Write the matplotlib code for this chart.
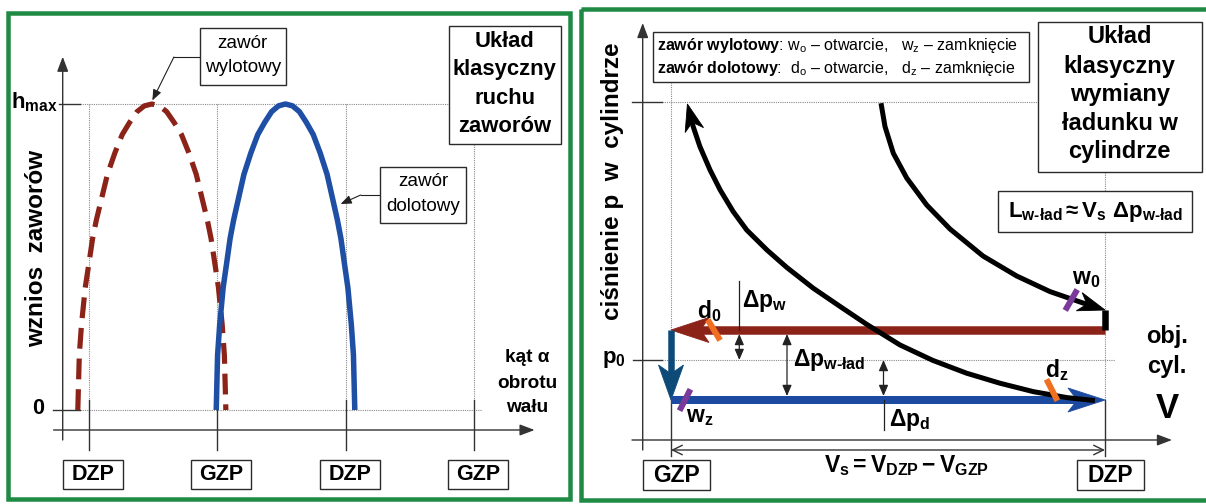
import numpy as np
import matplotlib
matplotlib.use('Agg')
import matplotlib.pyplot as plt
import matplotlib.transforms as mtransforms
from matplotlib.patches import Rectangle, FancyArrowPatch, Polygon
from matplotlib.lines import Line2D

plt.rcParams['font.family'] = ['Liberation Sans', 'DejaVu Sans']
plt.rcParams['mathtext.fontset'] = 'custom'
plt.rcParams['mathtext.rm'] = 'Liberation Sans'
plt.rcParams['mathtext.it'] = 'Liberation Sans'
plt.rcParams['mathtext.bf'] = 'Liberation Sans:bold'

# ---------------- DATA: left panel (valve lift vs crank angle) ----------------
cycle_angles = [180, 360, 540, 720]
cycle_labels = ['DZP', 'GZP', 'DZP', 'GZP']
lift_levels = [0.0, 1.0]
lift_labels = ['0', r'$\mathbf{h}_\mathbf{max}$']
exh_angle = [164.6, 166.7, 169.8, 175.0, 180.2, 185.3, 190.5, 195.7, 206.1, 216.5,
             226.8, 237.2, 247.6, 257.9, 268.3, 278.7, 289.0, 299.4, 309.8, 320.2,
             330.5, 340.9, 346.1, 351.3, 356.5, 361.6, 366.8, 369.9, 372.0]
exh_lift = [0.0, 0.18, 0.28, 0.40, 0.48, 0.56, 0.62, 0.67, 0.77, 0.84,
            0.90, 0.94, 0.975, 0.994, 1.0, 0.994, 0.975, 0.94, 0.90, 0.84,
            0.77, 0.67, 0.62, 0.56, 0.48, 0.40, 0.28, 0.18, 0.0]
int_angle = [358.5, 360.4, 363.4, 368.2, 373.1, 377.9, 382.8, 387.6, 397.3, 407.0,
             416.7, 426.4, 436.1, 445.8, 455.5, 465.3, 475.0, 484.7, 494.4, 504.1,
             513.8, 523.5, 528.3, 533.2, 538.0, 542.9, 547.7, 550.7, 552.6]
int_lift = [0.0, 0.18, 0.28, 0.40, 0.48, 0.56, 0.62, 0.67, 0.77, 0.84,
            0.90, 0.94, 0.975, 0.994, 1.0, 0.994, 0.975, 0.94, 0.90, 0.84,
            0.77, 0.67, 0.62, 0.56, 0.48, 0.40, 0.28, 0.18, 0.0]

# ---------------- DATA: right panel (p-V diagram) ----------------
stroke_V = [1.0, 10.0]
stroke_labels = ['GZP', 'DZP']
p0 = 1.0
p_exh = 1.15
p_int = 0.80
p_top = 2.29
p_blow = 1.25
comp_V = [9.79, 9.21, 8.51, 7.82, 7.13, 6.43, 5.75, 5.06, 4.51, 3.95, 3.40, 2.99, 2.57, 2.29, 2.02, 1.81, 1.60, 1.46, 1.34]
comp_p = [0.797, 0.812, 0.842, 0.884, 0.934, 0.998, 1.075, 1.178, 1.267, 1.359, 1.463, 1.550, 1.650, 1.742, 1.850, 1.950, 2.067, 2.167, 2.280]
exp_V = [5.355, 5.438, 5.61, 5.888, 6.303, 6.786, 7.47, 8.169, 8.86, 9.544, 10.0]
exp_p = [2.284, 2.167, 2.034, 1.91, 1.775, 1.655, 1.52, 1.42, 1.342, 1.285, 1.25]
valve_labels = [r'$\mathbf{w_0}$', r'$\mathbf{w_z}$', r'$\mathbf{d_0}$', r'$\mathbf{d_z}$']
valve_V = [9.30, 1.29, 1.89, 8.90]
valve_p = [1.30, 0.80, 1.15, 0.85]

# ---------------- styles / layout ----------------
GREEN = '#1f8a43'
RED = '#8c2319'
BLUE = '#1f4fa5'
BLUE_L = '#1c4aa0'
DBLUE = '#0d4a78'
PURPLE = '#7a3a9a'
ORANGE = '#f07020'
GRID = '#8a8a8a'
AX = '#333333'
valve_colors = [PURPLE, PURPLE, ORANGE, ORANGE]
valve_tilt = [30, 27, -31, -27]
valve_label_off = [(15, -21), (15, 17), (-5, -19), (5, -20)]

W, H = 1206, 504
fig = plt.figure(figsize=(W / 100, H / 100), dpi=100)
fig.patch.set_facecolor('white')
PX = mtransforms.Affine2D().scale(1.0 / W, -1.0 / H).translate(0, 1) + fig.transFigure
PT = 0.72  # px -> pt

# left axes mapping
L_XDZP, L_PXDEG = 88.8, 128.5 / 180.0
L_Y0, L_Y1 = 410.0, 104.0
def ang(xp): return 180 + (xp - L_XDZP) / L_PXDEG
def xa(a): return L_XDZP + (a - 180) * L_PXDEG
def lif(yp): return (L_Y0 - yp) / (L_Y0 - L_Y1)
def yl(l): return L_Y0 - l * (L_Y0 - L_Y1)

# right axes mapping
R_XG, R_XD = 671.0, 1105.0
R_K = (R_XD - R_XG) / (stroke_V[1] - stroke_V[0])
R_YP0, R_KP = 360.0, 200.0
def vol(xp): return stroke_V[0] + (xp - R_XG) / R_K
def xv(v): return R_XG + (v - stroke_V[0]) * R_K
def pres(yp): return p0 + (R_YP0 - yp) / R_KP
def yp_(p): return R_YP0 - (p - p0) * R_KP

ax1 = fig.add_axes([0, 0, 580 / W, 1])
ax2 = fig.add_axes([580 / W, 0, 626 / W, 1])
for a in (ax1, ax2):
    a.axis('off')
    a.set_autoscale_on(False)
ax1.set_xlim(ang(0), ang(580))
ax1.set_ylim(lif(H), lif(0))
ax2.set_xlim(vol(580), vol(1206))
ax2.set_ylim(pres(H), pres(0))


def to_px(ax, xs, ys):
    d = ax.transData.transform(np.column_stack([np.atleast_1d(xs), np.atleast_1d(ys)]))
    return PX.inverted().transform(d)


def ptext(x, y, s, size, weight='normal', ha='center', va='center', rotation=0, **kw):
    return fig.text(x, y, s, transform=PX, fontsize=size, fontweight=weight, ha=ha, va=va,
                    rotation=rotation, zorder=7, **kw)


def pline(xs, ys, **kw):
    kw.setdefault('zorder', 5)
    fig.add_artist(Line2D(xs, ys, transform=PX, **kw))


def pbox(x0, y0, x1, y1, lw=1.0, ec='#2a2a2a', fc='white', z=6):
    fig.add_artist(Rectangle((x0, y0), x1 - x0, y1 - y0, transform=PX, fc=fc, ec=ec, lw=lw, zorder=z))


def parrow(x0, y0, x1, y1, style, lw=1.0, color=AX, z=5):
    fig.add_artist(FancyArrowPatch((x0, y0), (x1, y1), transform=PX, arrowstyle=style,
                                   mutation_scale=1, lw=lw, color=color, shrinkA=0, shrinkB=0, zorder=z))


def _back(pts, dist):
    """point at arc distance `dist` from polyline end, and polyline cut there"""
    pts = [np.array(p, float) for p in pts]
    rem = dist
    while len(pts) > 1:
        seg = pts[-1] - pts[-2]
        l = float(np.hypot(*seg))
        if l > rem:
            q = pts[-1] - seg / l * rem
            return q, np.array(pts[:-1] + [q])
        rem -= l
        pts.pop()
    return pts[0], np.array(pts)


def stealth(ax, pts_px, color, lw_px, L, hw, notch=0.72, z=3):
    pts = np.asarray(pts_px, float)
    tip = pts[-1]
    bp, _ = _back(pts, L)
    d = tip - bp
    d = d / np.hypot(*d)
    n = np.array([-d[1], d[0]])
    poly = [tip, tip - d * L + n * hw, tip - d * L * notch, tip - d * L - n * hw]
    _, shaft = _back(pts, L * notch - 1.0)
    ax.add_line(Line2D(shaft[:, 0], shaft[:, 1], transform=PX, color=color, lw=lw_px * PT,
                       solid_capstyle='butt', solid_joinstyle='round', zorder=z, clip_on=False))
    ax.add_patch(Polygon(poly, closed=True, transform=PX, fc=color, ec=color, lw=0.6,
                         joinstyle='miter', zorder=z, clip_on=False))

GRIDKW = dict(color=GRID, lw=0.8, linestyle=(0, (1, 1)), clip_on=False, zorder=1)

# =============== frames ===============
fig.add_artist(Rectangle((8.3, 13.3), 569.5 - 8.3, 498.7 - 13.3, transform=PX, fill=False,
                         ec=GREEN, lw=4.5 * PT, zorder=10))
fig.add_artist(Rectangle((581.0, 9.0), 1212 - 581.0, 500.0 - 9.0, transform=PX, fill=False,
                         ec=GREEN, lw=4.5 * PT, zorder=10, clip_on=False))

# =============== LEFT PANEL ===============
ax1.plot([ang(80), ang(449)], [lift_levels[1]] * 2, **GRIDKW)
ax1.plot([ang(80), ang(482)], [lift_levels[0]] * 2, **GRIDKW)
for i, a in enumerate(cycle_angles):
    top = lift_levels[1] if i < 3 else lif(144)
    ax1.plot([a, a], [top, lif(400)], **GRIDKW)
    ax1.plot([a, a], [lif(400), lif(450)], color=AX, lw=1.0, clip_on=False, zorder=2)
    bx = xa(a) - 26
    pbox(bx, 459.5, bx + 60, 489.3)
    ptext(bx + 30, 475, cycle_labels[i], 15.5, 'bold')
ax1.plot([ang(59), ang(80)], [lift_levels[1]] * 2, color=AX, lw=1.0, clip_on=False)
ax1.plot([ang(53), ang(80)], [lift_levels[0]] * 2, color=AX, lw=1.0, clip_on=False)
ptext(58, 108.5, lift_labels[1], 16, ha='right', va='baseline')
ptext(38, 409, lift_labels[0], 15.5, 'bold')

parrow(62.7, 440, 62.7, 56.7, '-|>,head_length=9,head_width=3.4', lw=1.0)
parrow(53.6, 430, 534.6, 430, '-|>,head_length=9,head_width=3.4', lw=1.0)

ax1.plot(exh_angle, exh_lift, color=RED, lw=5.2 * PT, linestyle=(0, (4.0, 1.9)),
         dash_capstyle='butt', clip_on=False, zorder=3)
ax1.plot(int_angle, int_lift, color=BLUE, lw=5.5 * PT, clip_on=False, zorder=3,
         solid_capstyle='butt', solid_joinstyle='round')

ptext(37, 248.5, 'wznios  zaworów', 17.5, 'bold', rotation=90)
for s, y in zip(['kąt α', 'obrotu', 'wału'], [358, 383, 407]):
    ptext(527, y, s, 13.7, 'bold')

pbox(449, 25.7, 560.5, 144)
for s, y in zip(['Układ', 'klasyczny', 'ruchu', 'zaworów'], [41.7, 70.0, 98.3, 126.7]):
    ptext(504.7, y, s, 15.8, 'bold')

pbox(199.8, 28.3, 285.6, 85)
for s, y in zip(['zawór', 'wylotowy'], [43, 68]):
    ptext(242.7, y, s, 13.6)
pline([199.8, 173.9], [57, 57], color='#222', lw=0.8)
parrow(173.9, 57, xa(exh_angle[14]) + 0.5, yl(exh_lift[14]) - 3.5,
       '-|>,head_length=6.5,head_width=2.6', lw=0.8, color='#222')

pbox(380.3, 166.7, 466.1, 222.7)
for s, y in zip(['zawór', 'dolotowy'], [181.7, 206.7]):
    ptext(423.2, y, s, 13.6)
pline([380.3, 360.7], [195, 195], color='#222', lw=0.8)
parrow(360.7, 195, 340.6, 204, '-|>,head_length=6.5,head_width=2.6', lw=0.8, color='#222')

# =============== RIGHT PANEL ===============
ax2.plot([vol(662), vol(1037)], [p_top] * 2, **GRIDKW)
ax2.plot([vol(632), vol(662)], [p_top] * 2, color=AX, lw=1.0, clip_on=False)
ax2.plot([vol(662), vol(1115)], [p0] * 2, **GRIDKW)
ax2.plot([vol(633), vol(662)], [p0] * 2, color=AX, lw=1.0, clip_on=False)
ax2.plot([stroke_V[0]] * 2, [pres(82), p_int], **GRIDKW)
ax2.plot([stroke_V[1]] * 2, [pres(172), p_int], **GRIDKW)
for v in stroke_V:
    ax2.plot([v, v], [p_int, pres(456)], color=AX, lw=1.0, clip_on=False, zorder=2)

parrow(642.7, 450, 642.7, 23, '-|>,head_length=9,head_width=3.4', lw=1.0)
parrow(632, 440, 1172, 440, '-|>,head_length=9,head_width=3.4', lw=1.0)

yv = pres(450)
ax2.annotate('', xy=(stroke_V[1], yv), xytext=(stroke_V[0], yv), annotation_clip=False,
             arrowprops=dict(arrowstyle='<->,head_length=7,head_width=3.4', mutation_scale=1,
                             lw=1.0, color=AX, shrinkA=0, shrinkB=0))
ptext(907, 466, r'$\mathbf{V_s = V_{DZP} - V_{GZP}}$', 16.5)

for v, lab in zip(stroke_V, stroke_labels):
    bx = xv(v) - 28.5
    pbox(bx, 459.5, bx + 67, 489.5)
    ptext(bx + 33.5, 475, lab, 16.5, 'bold')

# exhaust stroke (red), drop at GZP (dark blue), intake stroke (blue)
stealth(ax2, to_px(ax2, stroke_V[::-1], [p_exh, p_exh]), RED, 8.5, 38, 12.5, notch=0.78)
stealth(ax2, to_px(ax2, [stroke_V[0]] * 2, [p_exh, p_int]), DBLUE, 6.5, 35, 12.5, notch=0.75)
stealth(ax2, to_px(ax2, stroke_V, [p_int, p_int]), BLUE_L, 8, 37, 12, notch=0.75)
ax2.plot([stroke_V[1]] * 2, [p_blow, p_exh], color='k', lw=6.5 * PT, solid_capstyle='butt', zorder=4)

# compression and expansion curves
stealth(ax2, to_px(ax2, comp_V, comp_p), 'k', 5.0, 27, 9.5, notch=0.7, z=4)
stealth(ax2, to_px(ax2, exp_V, exp_p), 'k', 5.0, 27, 9.5, notch=0.7, z=4)

# valve event markers
for v, p, c, t, lab, (dx, dy) in zip(valve_V, valve_p, valve_colors, valve_tilt,
                                        valve_labels, valve_label_off):
    cx, cy = to_px(ax2, v, p)[0]
    hx, hy = 12 * np.sin(np.radians(t)), 12 * np.cos(np.radians(t))
    ax2.add_line(Line2D([cx - hx, cx + hx], [cy + hy, cy - hy], transform=PX, color=c,
                        lw=6 * PT, solid_capstyle='butt', zorder=6, clip_on=False))
    ptext(cx + dx, cy + dy, lab, 16.5)


def dp_arrow(xp, p_a, p_b):
    ax2.annotate('', xy=(vol(xp), p_a), xytext=(vol(xp), p_b), annotation_clip=False,
                 arrowprops=dict(arrowstyle='<|-|>,head_length=6.5,head_width=2.8',
                                 mutation_scale=1, lw=0.9, color='#222', shrinkA=0, shrinkB=0),
                 zorder=5)

dp_arrow(739.3, p_exh - 0.02, p0)
ax2.plot([vol(739.3)] * 2, [pres(281), p_exh], color='#222', lw=0.9, zorder=5)
ptext(742, 301, r'$\mathbf{\Delta p_w}$', 16.5, ha='left')
dp_arrow(787, p_exh - 0.02, p_int + 0.02)
ptext(793, 360, r'$\mathbf{\Delta p_{w‐ład}}$', 16.5, ha='left')
dp_arrow(883.5, p0, p_int + 0.02)
ax2.plot([vol(883.5)] * 2, [p_int, pres(430)], color='#222', lw=0.9, zorder=5)
ptext(889, 420, r'$\mathbf{\Delta p_d}$', 16.5, ha='left')

ptext(626, 363.3, r'$\mathbf{p_0}$', 16, ha='right', va='baseline')
ptext(612, 181, 'ciśnienie p  w  cylindrze', 17.5, 'bold', rotation=90)
ptext(1167, 337, 'obj.', 17, 'bold')
ptext(1167, 367, 'cyl.', 17, 'bold')
ptext(1167.5, 409, 'V', 25, 'bold')

pbox(652.7, 32.3, 1029.3, 81.7)
ptext(656.7, 50, r'$\mathbf{zawór\ wylotowy}$: w$_\mathrm{o}$ – otwarcie,   w$_\mathrm{z}$ – zamknięcie',
      11.5, ha='left', va='baseline')
ptext(656.7, 72.7, r'$\mathbf{zawór\ dolotowy}$:  d$_\mathrm{o}$ – otwarcie,   d$_\mathrm{z}$ – zamknięcie',
      11.5, ha='left', va='baseline')

pbox(1038, 22, 1201.7, 171.7)
for s, y in zip(['Układ', 'klasyczny', 'wymiany', 'ładunku w', 'cylindrze'],
                [36.7, 66.7, 95.0, 123.3, 151.7]):
    ptext(1119.8, y, s, 17, 'bold')

pbox(998, 191, 1192, 232)
ptext(1095, 212, r'$\mathbf{L_{w‐ład}\approx V_s\ \Delta p_{w‐ład}}$', 16)

fig.savefig('out.png', dpi=100, facecolor='white')
